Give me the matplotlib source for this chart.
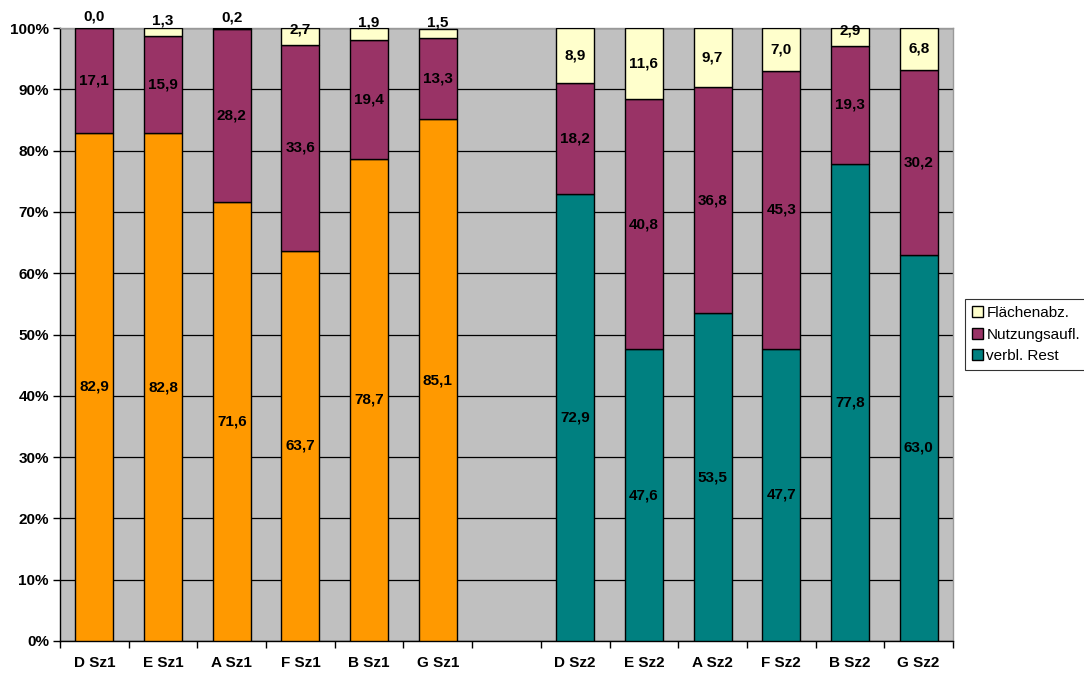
import matplotlib
matplotlib.use("Agg")
import matplotlib.pyplot as plt
from matplotlib.patches import Patch

plt.rcParams['font.family'] = ['Liberation Sans', 'DejaVu Sans']

categories = ["D Sz1", "E Sz1", "A Sz1", "F Sz1", "B Sz1", "G Sz1", "",
              "D Sz2", "E Sz2", "A Sz2", "F Sz2", "B Sz2", "G Sz2"]
rest = [82.9, 82.8, 71.6, 63.7, 78.7, 85.1, None, 72.9, 47.6, 53.5, 47.7, 77.8, 63.0]
nutz = [17.1, 15.9, 28.2, 33.6, 19.4, 13.3, None, 18.2, 40.8, 36.8, 45.3, 19.3, 30.2]
flaech = [0.0, 1.3, 0.2, 2.7, 1.9, 1.5, None, 8.9, 11.6, 9.7, 7.0, 2.9, 6.8]
series_names = ["Flächenabz.", "Nutzungsaufl.", "verbl. Rest"]

c_orange = "#FF9900"
c_teal = "#008080"
c_purple = "#993366"
c_yellow = "#FFFFCC"

fig = plt.figure(figsize=(10.84, 6.75), dpi=100)
ax = fig.add_axes([60/1084, 34/675, (953-60)/1084, (641-28)/675])
ax.set_facecolor("#C0C0C0")

width = 0.555
fs = 11
for i, cat in enumerate(categories):
    if rest[i] is None:
        continue
    base_col = c_orange if i < 6 else c_teal
    bottom = 0.0
    for v, col in ((rest[i], base_col), (nutz[i], c_purple), (flaech[i], c_yellow)):
        ax.bar(i, v, width=width, bottom=bottom, color=col, edgecolor="black",
               linewidth=1.0, zorder=3)
        yc = bottom + v / 2
        if v < 2.5:
            yc += 1.8
        elif v < 5:
            yc += 1.1
        ax.text(i, yc, f"{v:.1f}".replace(".", ","), ha="center", va="center",
                fontsize=fs, fontweight="bold", color="black", zorder=5, clip_on=False)
        bottom += v

ax.set_xlim(-0.5, len(categories) - 0.5)
ax.set_ylim(0, 100)
ax.set_yticks(range(0, 101, 10))
ax.set_yticklabels([f"{t}%" for t in range(0, 101, 10)], fontsize=fs, fontweight="bold")
ax.yaxis.grid(True, color="black", linewidth=0.9, zorder=0)
ax.set_axisbelow(True)

ax.set_xticks([i - 0.5 for i in range(len(categories) + 1)])
ax.set_xticklabels([])
ax.set_xticks(range(len(categories)), minor=True)
ax.set_xticklabels(categories, minor=True, fontsize=fs, fontweight="bold")
ax.tick_params(axis="x", which="minor", length=0, pad=11)
ax.tick_params(axis="x", which="major", length=5, width=1, direction="out")
ax.tick_params(axis="y", length=5, width=1, direction="out", pad=3)

for s in ("left", "bottom"):
    ax.spines[s].set_color("black")
    ax.spines[s].set_linewidth(1.0)
for s in ("top", "right"):
    ax.spines[s].set_color("#999999")
    ax.spines[s].set_linewidth(1.0)

handles = [Patch(facecolor=c_yellow, edgecolor="black", label=series_names[0]),
           Patch(facecolor=c_purple, edgecolor="black", label=series_names[1]),
           Patch(facecolor=c_teal, edgecolor="black", label=series_names[2])]
leg = fig.legend(handles=handles, loc="upper left",
                 bbox_to_anchor=(965/1084, 1 - 299/675), fontsize=11,
                 frameon=True, fancybox=False, edgecolor="black",
                 handlelength=0.7, handleheight=0.7, handletextpad=0.25,
                 labelspacing=0.5, borderpad=0.45, borderaxespad=0)
leg.get_frame().set_linewidth(0.8)

fig.savefig("out.png", dpi=100, facecolor="white")
